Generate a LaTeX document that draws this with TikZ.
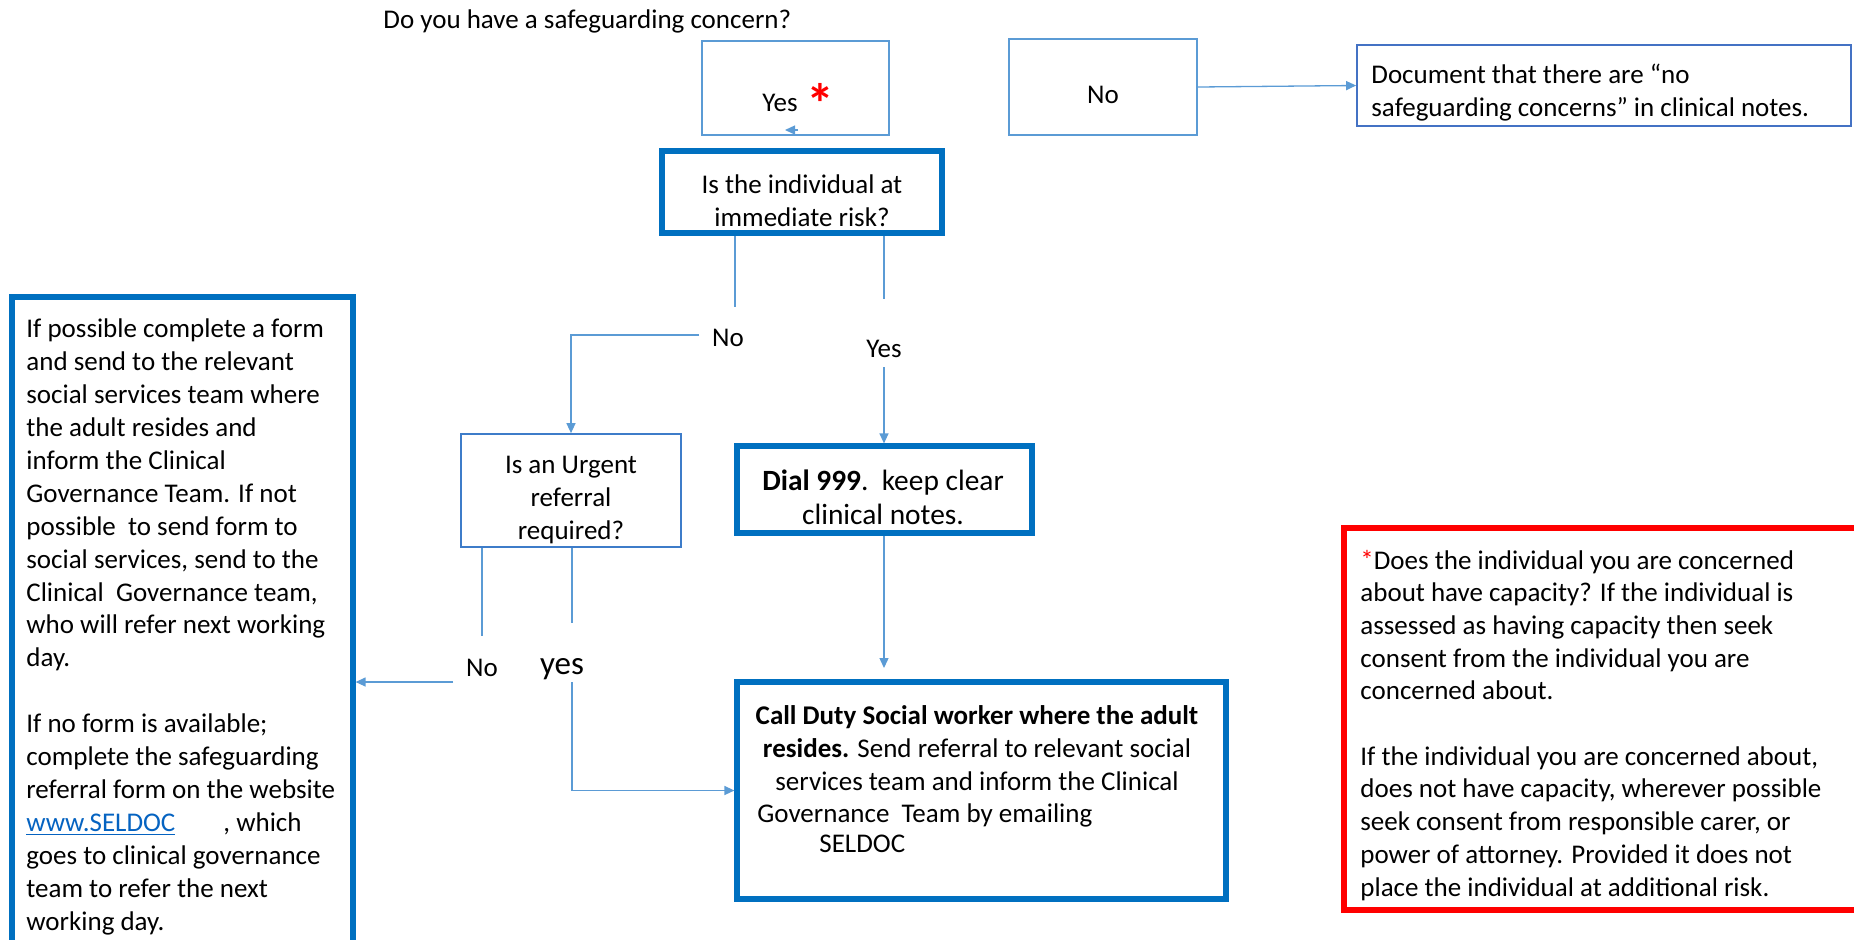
\documentclass[tikz,border=0pt]{standalone}
\usepackage{fontspec}
\setmainfont{Carlito}
\usetikzlibrary{arrows.meta,fit,calc}
\definecolor{thickblue}{HTML}{0070C0}
\definecolor{lineblue}{HTML}{5B9BD5}
\definecolor{thinblue}{HTML}{5B9BD5}
\definecolor{docblue}{HTML}{4472C4}
\definecolor{urgblue}{HTML}{3D7CC9}
\definecolor{linkblue}{HTML}{0563C1}
\definecolor{redbox}{HTML}{FF0000}
\begin{document}
\begin{tikzpicture}[x=0.5pt,y=-0.5pt,
  every node/.style={font=\fontsize{13.5}{16.45}\selectfont},
  thinbox/.style={draw=thinblue, line width=0.85pt, inner sep=0pt},
  thickbox/.style={draw=thickblue, line width=2.6pt, inner sep=0pt},
  redframe/.style={draw=redbox, line width=2.8pt, inner sep=0pt},
  conn/.style={draw=lineblue, line width=0.65pt},
  arr/.style={conn, -{Triangle[length=5pt,width=4.5pt]}},
  txt/.style={inner sep=0pt, align=left},
  ctxt/.style={inner sep=0pt, align=center}]
\useasboundingbox (0,0) rectangle (1854,939);

% boxes
\node[thinbox, fit={(702,41) (889,135)}] (yes) {};
\node[thinbox, fit={(1009,39) (1197,135)}] (no) {};
\node[thinbox, draw=docblue, fit={(1357,45) (1851,126)}] (doc) {};
\node[thickbox, fit={(662,151) (942,233)}] (risk) {};
\node[thinbox, draw=urgblue, fit={(461,434) (681,547)}] (urgent) {};
\node[thickbox, fit={(737,446) (1032,533)}] (dial) {};
\node[thickbox, fit={(737,682) (1226,899)}] (call) {};
\node[thickbox, fit={(12,297) (353,960)}] (left) {};
\node[redframe, fit={(1344,528) (1870,910)}] (note) {};

% texts (anchor base = baseline of the last line)
\node[txt, anchor=base west] (title) at (383,28) {Do you have a safeguarding concern?};
\node[inner sep=0pt, anchor=base west] (yest) at (762,111) {Yes};
\node[inner sep=0pt, text=red, font=\fontsize{28}{28}\selectfont\bfseries] (ast) at (820,103) {*};
\node[inner sep=0pt, anchor=base] (not) at (1103,103) {No};
\node[txt, anchor=base west] (doct) at (1371,116) {Document that there are “no\\safeguarding concerns” in clinical notes.};
\node[ctxt, anchor=base] (riskt) at (802,226) {Is the individual at\\immediate risk?};
\node[inner sep=0pt, anchor=base] (lno1) at (728,346) {No};
\node[inner sep=0pt, anchor=base] (lyes1) at (884,357) {Yes};
\node[ctxt, anchor=base] (urgt) at (571,539) {Is an Urgent\\referral\\required?};
\node[ctxt, anchor=base, font=\fontsize{14.7}{16.6}\selectfont] (dialt) at (883,524) {\textbf{Dial 999}.\ \ keep clear\\clinical notes.};
\node[inner sep=0pt, anchor=base] (lno2) at (482,676) {No};
\node[inner sep=0pt, anchor=base, font=\fontsize{16.5}{18}\selectfont] (lyes2) at (562,674) {yes};
\node[ctxt, anchor=base] (callt1) at (977,790) {\textbf{Call Duty Social worker where the adult}\\\textbf{resides.} Send referral to relevant social\\services team and inform the Clinical};
\node[txt, anchor=base west] (callt2) at (757,822) {Governance\ \ Team by emailing};
\node[txt, anchor=base west] (callt3) at (819,852) {SELDOC};
\node[txt, anchor=base west] (leftt) at (26,930) {If possible complete a form\\and send to the relevant\\social services team where\\the adult resides and\\inform the Clinical\\Governance Team. If not\\possible\ \ to send form to\\social services, send to the\\Clinical\ \ Governance team,\\who will refer next working\\day.\\[16.45pt]If no form is available;\\complete the safeguarding\\referral form on the website\\\textcolor{linkblue}{\underline{www.SELDOC}}\hspace*{24pt}, which\\goes to clinical governance\\team to refer the next\\working day.};
\node[txt, anchor=base west, font=\fontsize{13.5}{16.35}\selectfont] (notet) at (1360,896) {\textcolor{red}{*}Does the individual you are concerned\\about have capacity? If the individual is\\assessed as having capacity then seek\\consent from the individual you are\\concerned about.\\[16.35pt]If the individual you are concerned about,\\does not have capacity, wherever possible\\seek consent from responsible carer, or\\power of attorney. Provided it does not\\place the individual at additional risk.};

% connectors
\draw[arr] (no.east) -- (doc.west);
\coordinate (ta) at (798,130);
\coordinate (tb) at (785,130);
\draw[arr] (ta) -- (tb);
\coordinate (nA) at (735,307);
\draw[conn] (risk.south -| nA) -- (nA);
\coordinate (nB) at (699,335);
\draw[arr] (nB) -| (urgent.north);
\coordinate (yA) at (884,299);
\draw[conn] (risk.south -| yA) -- (yA);
\coordinate (yB) at (884,367);
\draw[arr] (yB) -- (yB |- dial.north);
\coordinate (dC) at (884,668);
\draw[arr] (dial.south -| dC) -- (dC);
\coordinate (uN) at (482,636);
\draw[conn] (urgent.south -| uN) -- (uN);
\coordinate (uN2) at (453,682);
\draw[arr] (uN2) -- (uN2 -| left.east);
\coordinate (uY) at (572,623);
\draw[conn] (urgent.south -| uY) -- (uY);
\coordinate (uY2) at (572,682);
\draw[arr] (uY2) |- (call.west);
\end{tikzpicture}
\end{document}
